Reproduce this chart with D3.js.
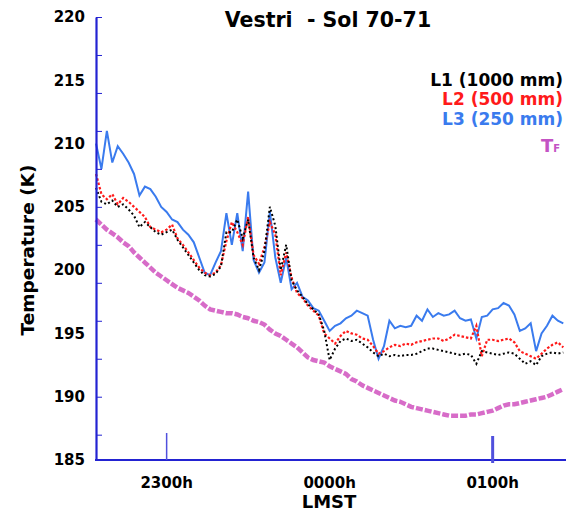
<!DOCTYPE html>
<html>
<head>
<meta charset="utf-8">
<script src="https://cdn.jsdelivr.net/npm/d3@7"></script>
<style>
  body { margin: 0; background: #fff; }
  svg { display: block; font-family: "DejaVu Sans", sans-serif; }
</style>
</head>
<body>
<svg id="chart" width="570" height="513"></svg>
<script>
// minutes after 22:00 LMST (2-minute samples)
var minutes = [34,36,38,40,42,44,46,48,50,52,54,56,58,60,62,64,66,68,70,72,74,76,78,80,82,84,86,88,90,92,
  94,96,98,100,102,104,106,108,110,112,114,116,118,120,122,124,126,128,130,132,134,136,138,140,142,144,146,148,150,152,
  154,156,158,160,162,164,166,168,170,172,174,176,178,180,182,184,186,188,190,192,194,196,198,200,202,204,206];

// L1 (1000 mm)
var l1 = [206.5,205.4,205.2,205.5,205.0,205.2,204.8,204.3,203.4,203.8,203.4,203.0,202.8,203.0,203.2,202.4,201.8,201.2,200.6,200.0,
  199.6,199.5,199.7,200.3,203.0,203.0,204.0,202.5,204.0,201.0,200.0,201.5,205.0,203.5,200.0,202.0,199.2,198.4,197.9,197.3,
  196.9,196.5,195.2,192.9,193.8,194.4,194.6,194.4,194.5,194.2,193.9,193.5,193.2,193.4,193.2,193.3,193.2,193.3,193.3,193.4,
  193.6,193.8,193.8,193.7,193.6,193.5,193.4,193.3,193.4,193.3,192.6,193.6,193.5,193.4,193.3,193.4,193.5,193.4,193.0,192.6,
  192.8,192.5,193.2,193.4,193.5,193.4,193.5];

// L2 (500 mm)
var l2 = [207.6,206.0,205.6,206.0,205.2,205.7,205.4,205.0,204.6,204.2,203.4,203.2,203.0,203.2,203.6,202.5,202.0,201.4,200.8,200.2,
  199.8,199.6,199.8,200.4,202.3,203.8,203.0,202.0,204.2,201.2,200.5,201.8,203.8,202.8,199.6,201.4,199.4,198.2,197.8,197.2,
  196.8,196.4,195.0,194.6,194.2,194.8,195.2,195.0,194.9,194.6,194.5,194.0,193.4,193.6,193.9,194.1,194.0,194.2,194.1,194.3,
  194.4,194.5,194.6,194.6,194.4,194.6,194.9,194.8,194.7,194.6,195.6,193.2,194.5,194.5,194.4,194.5,194.6,194.3,193.6,193.4,
  193.2,193.0,193.4,193.8,194.1,194.3,193.9];

// L3 (250 mm)
var l3 = [210.0,208.0,211.0,208.5,209.8,209.2,208.5,207.6,205.9,206.6,206.4,205.8,205.0,204.6,204.0,203.8,203.2,202.8,202.2,201.0,
  199.8,199.6,200.6,201.5,204.5,202.0,204.5,201.5,206.2,200.8,199.8,200.6,204.6,201.0,199.0,201.0,198.5,199.0,197.9,197.6,
  197.0,196.8,196.0,195.2,195.6,195.8,196.2,196.4,196.8,196.6,196.4,194.5,193.0,194.0,196.0,195.4,195.6,195.5,195.6,196.4,
  196.0,196.9,196.3,196.6,196.4,196.5,196.8,196.2,196.0,196.1,194.6,196.3,196.4,196.9,197.0,197.4,197.2,196.5,195.2,195.4,
  195.8,193.6,195.0,195.6,196.4,196.0,195.8];

// TF
var tf = [204.0,203.6,203.2,202.9,202.6,202.2,201.9,201.4,201.0,200.6,200.2,199.8,199.5,199.2,198.9,198.6,198.4,198.2,197.9,197.6,
  197.2,196.9,196.8,196.7,196.6,196.6,196.5,196.3,196.2,196.0,195.9,195.7,195.3,195.0,194.8,194.5,194.2,193.9,193.5,193.1,
  192.9,192.8,192.7,192.4,192.2,192.0,191.8,191.4,191.2,190.9,190.7,190.5,190.3,190.1,189.9,189.7,189.6,189.4,189.2,189.1,
  189.0,188.9,188.8,188.7,188.6,188.5,188.5,188.5,188.5,188.6,188.6,188.7,188.8,188.9,189.1,189.3,189.4,189.4,189.5,189.6,
  189.7,189.8,189.9,190.0,190.2,190.4,190.6];

var yLabelTicks = [185,190,195,200,205,210,215,220];
var yMinorTicks = [187,190,193,196,199,202,205,208,211,214,217,220];
var xTickMarks = [60,180];
var xLabels = [{m:60, text:"2300h"}, {m:120, text:"0000h"}, {m:180, text:"0100h"}];

var series = [
  {name:"L3 (250 mm)", values:l3, color:"#3a7bee", width:2, dash:null},
  {name:"L2 (500 mm)", values:l2, color:"#ff1a1a", width:2.2, dash:"2.5 2"},
  {name:"L1 (1000 mm)", values:l1, color:"#000000", width:2, dash:"2 2.5"}
];

var axisColor = "#2323d2";
var svg = d3.select("#chart");

var x = d3.scaleLinear().domain([34, 207]).range([96, 566]);
var y = d3.scaleLinear().domain([185, 220]).range([460, 17]);

// TF band
var line = d3.line().x(function(d, i){ return x(minutes[i]); }).y(function(d){ return y(d); });
svg.append("path")
  .attr("d", line(tf))
  .attr("fill", "none")
  .attr("stroke", "#d35cc2")
  .attr("stroke-width", 4.5)
  .attr("stroke-dasharray", "7 2")
  .attr("opacity", 0.9);

series.forEach(function(s){
  svg.append("path")
    .attr("d", line(s.values))
    .attr("fill", "none")
    .attr("stroke", s.color)
    .attr("stroke-width", s.width)
    .attr("stroke-dasharray", s.dash);
});

// y axis: minor marks inside, labels every 5 K
var yTicks = svg.append("g")
  .attr("transform", "translate(96,0)")
  .call(d3.axisRight(y).tickValues(yMinorTicks).tickSize(6).tickFormat(""));
yTicks.selectAll("line").attr("stroke", axisColor).attr("stroke-width", 1);
yTicks.select(".domain").remove();

var yAx = svg.append("g")
  .attr("transform", "translate(96,0)")
  .call(d3.axisLeft(y).tickValues(yLabelTicks).tickSize(0).tickPadding(11));
yAx.select(".domain").attr("stroke", axisColor).attr("stroke-width", 2.2);
yAx.selectAll("text")
  .attr("font-family", "DejaVu Sans")
  .attr("font-weight", "bold")
  .attr("font-size", 15)
  .attr("fill", "#000");

// x axis
svg.append("line")
  .attr("x1", 95).attr("x2", 566)
  .attr("y1", 460).attr("y2", 460)
  .attr("stroke", axisColor).attr("stroke-width", 2.2);

svg.selectAll(".xmark")
  .data(xTickMarks)
  .enter().append("line")
  .attr("class", "xmark")
  .attr("x1", function(d){ return x(d); })
  .attr("x2", function(d){ return x(d); })
  .attr("y1", function(d, i){ return i == 0 ? 433 : 436; })
  .attr("y2", function(d, i){ return i == 0 ? 460 : 463; })
  .attr("stroke", "#5050dd")
  .attr("stroke-width", function(d, i){ return i == 0 ? 1.5 : 3; });

svg.selectAll(".xlab")
  .data(xLabels)
  .enter().append("text")
  .attr("class", "xlab")
  .attr("x", function(d){ return x(d.m); })
  .attr("y", 488)
  .attr("text-anchor", "middle")
  .attr("font-weight", "bold")
  .attr("font-size", 15)
  .text(function(d){ return d.text; });

svg.append("text")
  .attr("x", 329).attr("y", 508)
  .attr("text-anchor", "middle")
  .attr("font-weight", "bold")
  .attr("font-size", 18)
  .text("LMST");

svg.append("text")
  .attr("transform", "translate(34,250) rotate(-90)")
  .attr("text-anchor", "middle")
  .attr("font-weight", "bold")
  .attr("font-size", 18.5)
  .text("Temperature (K)");

// title
svg.append("text")
  .attr("x", 328).attr("y", 27)
  .attr("text-anchor", "middle")
  .attr("font-weight", "bold")
  .attr("font-size", 20.5)
  .style("white-space", "pre")
  .text("Vestri  - Sol 70-71");

// legend
var legendItems = [
  {text:"L1 (1000 mm)", color:"#000000", y:86},
  {text:"L2 (500 mm)", color:"#ff1a1a", y:105},
  {text:"L3 (250 mm)", color:"#3a7bee", y:125}
];
svg.selectAll(".leg")
  .data(legendItems)
  .enter().append("text")
  .attr("class", "leg")
  .attr("x", 563)
  .attr("y", function(d){ return d.y; })
  .attr("text-anchor", "end")
  .attr("font-size", 17)
  .attr("font-weight", "bold")
  .attr("fill", function(d){ return d.color; })
  .text(function(d){ return d.text; });

var tfLabel = svg.append("text")
  .attr("x", 560).attr("y", 152)
  .attr("text-anchor", "end")
  .attr("fill", "#c453c4")
  .attr("font-weight", "bold");
tfLabel.append("tspan").attr("font-size", 18).text("T");
tfLabel.append("tspan").attr("font-size", 10).text("F");
</script>
</body>
</html>
